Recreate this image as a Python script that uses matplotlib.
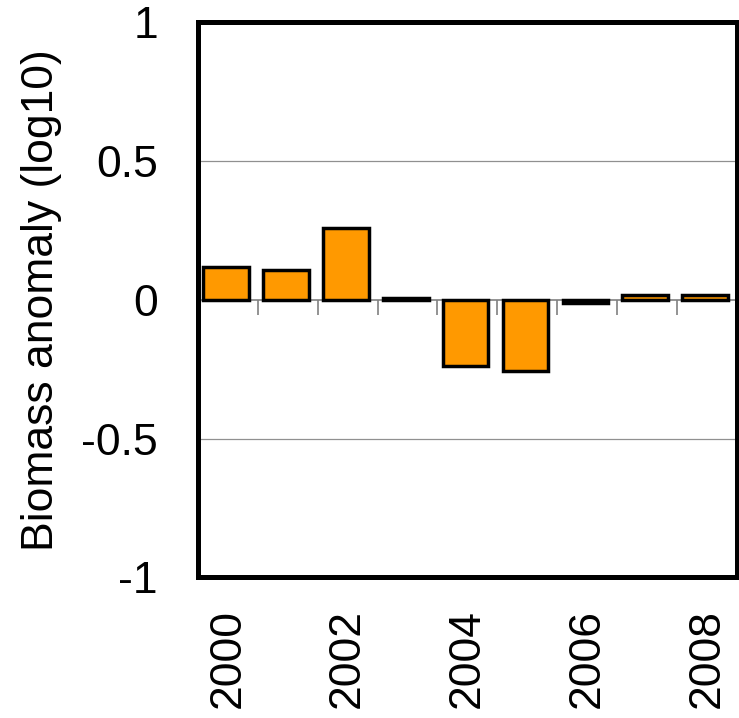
import matplotlib.pyplot as plt
import numpy as np

# --------------------------------
# DATA
# --------------------------------

years = [2000, 2001, 2002, 2003, 2004, 2005, 2006, 2007, 2008]
anomaly = [0.117, 0.108, 0.26, 0.005, -0.237, -0.256, -0.012, 0.016, 0.016]
label_years = [2000, 2002, 2004, 2006, 2008]
y_ticks = [-1, -0.5, 0, 0.5, 1]
y_tick_labels = ["-1", "-0.5", "0", "0.5", "1"]

plt.rcParams['font.family'] = ['Liberation Sans', 'DejaVu Sans']

# --------------------------------
# FIGURE
# --------------------------------

fig = plt.figure(figsize=(7.39, 7.18), dpi=100)
ax = fig.add_axes([0.268, 0.196, 0.729, 0.773])

x = np.arange(len(years))

ax.set_xlim(-0.5, len(years) - 0.5)
ax.set_ylim(-1, 1)

# gridlines at +/-0.5 and the zero line
for v in [-0.5, 0.5]:
    ax.axhline(v, color="#909090", linewidth=0.9, zorder=1)
ax.axhline(0, color="#808080", linewidth=1.2, zorder=1)

# category ticks hanging from the zero line
bounds = np.arange(0.5, len(years) - 1, 1.0)
ax.vlines(bounds, -0.055, 0, color="#808080", linewidth=1.2, zorder=1)

ax.bar(x - 0.03, anomaly, width=0.76, color="#FF9900", edgecolor="black",
       linewidth=2.5, zorder=3)

# --------------------------------
# AXES STYLE
# --------------------------------

ax.set_yticks(y_ticks)
ax.set_yticklabels(y_tick_labels)
ax.tick_params(axis="y", length=0, pad=29, labelsize=32)

ax.set_xticks([years.index(yr) for yr in label_years])
ax.set_xticklabels([str(yr) for yr in label_years], rotation=90)
ax.tick_params(axis="x", length=0, pad=23, labelsize=32)

ax.set_ylabel("Biomass anomaly (log10)", fontsize=32, labelpad=14)

for s in ax.spines.values():
    s.set_linewidth(3.6)

fig.savefig("out.png", dpi=100)
